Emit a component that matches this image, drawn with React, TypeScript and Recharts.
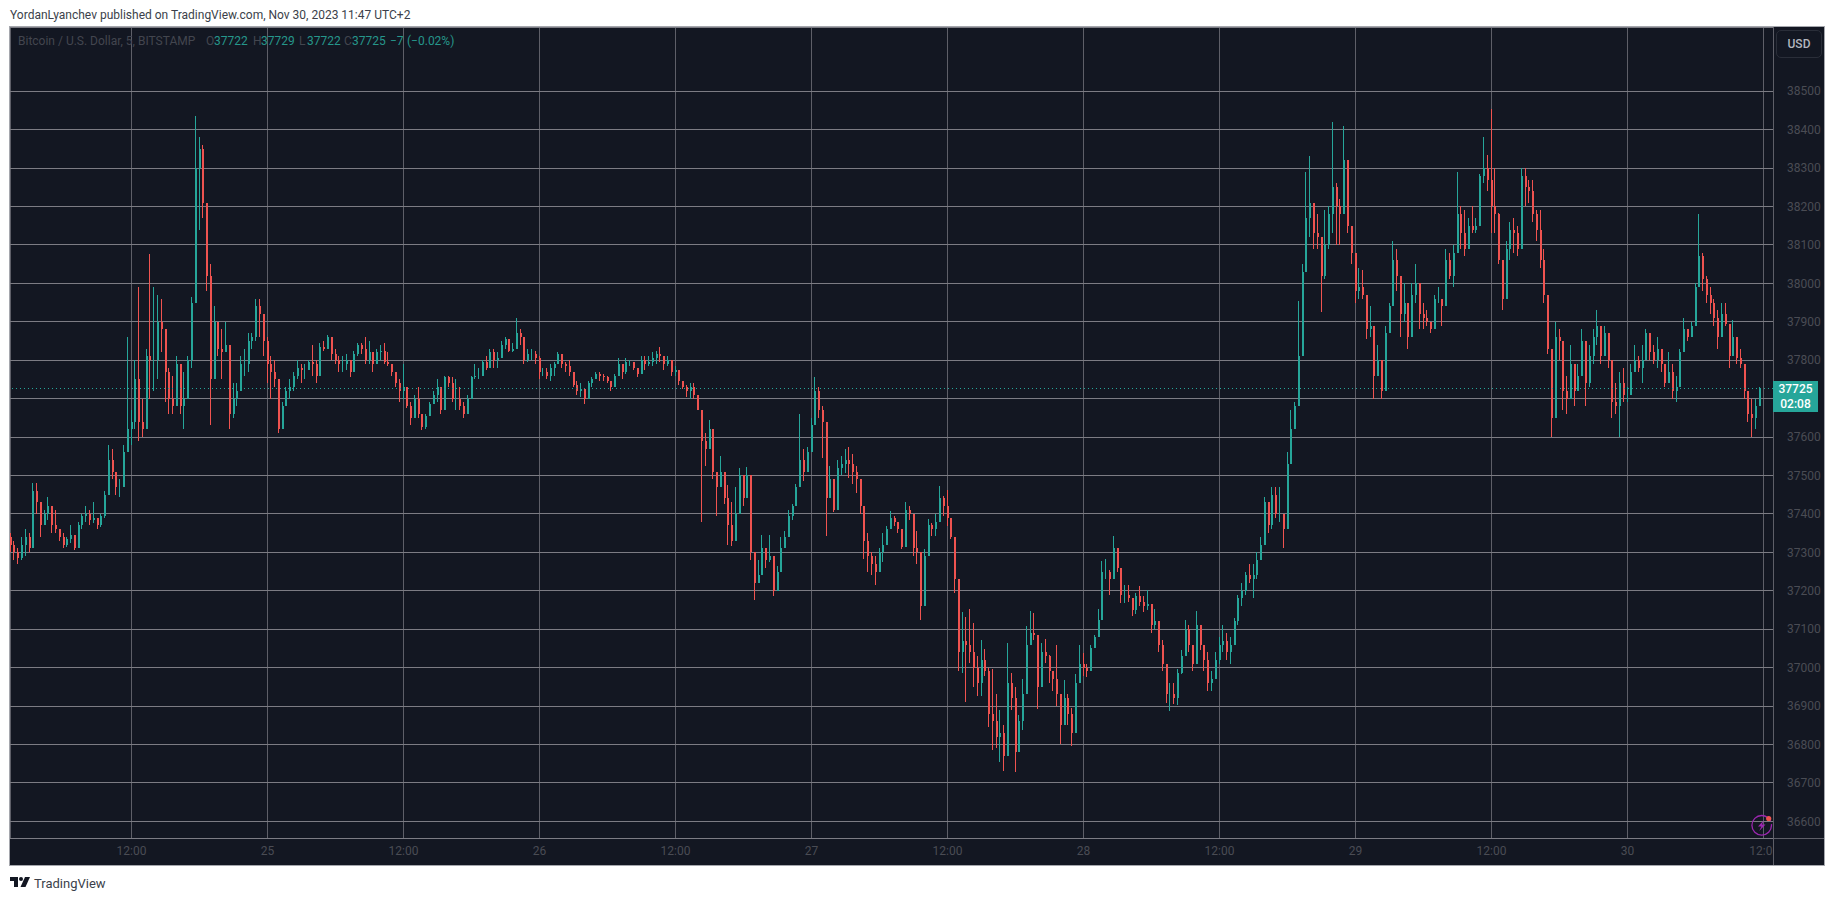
import React from "react";
import { Bar, CartesianGrid, Cell, ComposedChart, ReferenceLine, XAxis, YAxis } from "recharts";

const highs = [
  37350,37330,37310,37340,37360,37350,37480,37480,37420,37410,37445,37390,
  37410,37360,37350,37340,37370,37345,37380,37400,37420,37410,37430,37390,
  37400,37460,37580,37570,37510,37490,37580,37860,37670,37800,37990,37700,
  37830,38075,37990,37970,37960,37850,37780,37760,37810,37760,37770,37810,
  37965,38436,38380,38360,38130,38050,37940,37900,37880,37900,37800,37740,
  37740,37810,37830,37870,37870,37960,37960,37900,37860,37810,37800,37680,
  37690,37730,37750,37770,37800,37790,37790,37800,37840,37800,37845,37850,
  37865,37860,37830,37810,37810,37815,37785,37825,37845,37845,37860,37850,
  37820,37830,37840,37845,37820,37790,37770,37750,37790,37730,37690,37710,
  37730,37640,37660,37690,37720,37750,37730,37760,37760,37755,37750,37730,
  37690,37710,37760,37790,37780,37800,37810,37830,37830,37820,37850,37860,
  37840,37845,37910,37880,37860,37830,37830,37825,37810,37780,37780,37790,
  37795,37820,37815,37795,37800,37770,37745,37740,37720,37745,37755,37770,
  37770,37765,37760,37745,37765,37805,37785,37805,37800,37790,37780,37810,
  37810,37810,37820,37825,37835,37805,37810,37785,37785,37765,37740,37735,
  37740,37740,37700,37650,37610,37645,37605,37500,37550,37507,37474,37430,
  37470,37520,37470,37522,37490,37285,37280,37345,37305,37345,37250,37265,
  37340,37355,37410,37425,37478,37660,37570,37575,37650,37755,37730,37680,
  37530,37525,37435,37540,37550,37570,37575,37555,37525,37464,37373,37350,
  37300,37290,37312,37350,37368,37408,37395,37370,37342,37430,37420,37377,
  37355,37238,37308,37386,37377,37400,37473,37447,37462,37368,37305,37165,
  37145,37131,37153,37116,37029,37073,37048,37000,36995,36930,36890,36850,
  37064,36985,36950,36877,36969,37107,37148,37142,37025,37064,37075,37034,
  36986,37060,36930,36967,36930,36895,36982,37060,37038,37010,37060,37086,
  37153,37277,37283,37255,37342,37298,37240,37216,37216,37177,37195,37212,
  37185,37203,37155,37153,37103,37071,36990,36960,36960,36995,37047,37125,
  37110,37051,37148,37110,37060,37040,36990,37040,37080,37110,37090,37080,
  37130,37190,37220,37250,37270,37270,37300,37340,37445,37420,37470,37470,
  37470,37400,37560,37670,37690,37955,38050,38290,38330,38190,38180,38084,
  38190,38200,38420,38260,38220,38410,38260,38150,38030,38040,38035,37970,
  37940,37840,37840,37760,37890,37950,38110,38090,38010,38000,37940,38000,
  38050,37990,37950,37930,37900,37970,37990,37960,38090,38080,38100,38290,
  38200,38190,38170,38200,38170,38284,38380,38335,38453,38300,38183,38050,
  38110,38160,38170,38150,38300,38300,38270,38270,38190,38190,38090,37945,
  37820,37900,37880,37850,37760,37840,37750,37790,37880,37790,37840,37880,
  37930,37840,37890,37870,37780,37740,37770,37780,37730,37790,37840,37810,
  37840,37880,37870,37840,37860,37820,37790,37820,37790,37760,37830,37910,
  37880,37900,38000,38180,38080,38020,37990,37960,37930,37950,37950,37885,
  37905,37860,37830,37790,37715,37700,37700,37730,
];

const lows = [
  37300,37280,37270,37280,37290,37300,37400,37400,37340,37380,37385,37350,
  37350,37330,37310,37315,37325,37305,37310,37360,37380,37370,37375,37360,
  37365,37390,37490,37490,37450,37445,37470,37570,37580,37620,37590,37600,
  37690,37700,37720,37750,37820,37690,37660,37660,37700,37660,37620,37770,
  37780,37950,38140,38170,37980,37630,37760,37810,37750,37820,37620,37650,
  37680,37750,37760,37770,37830,37850,37860,37810,37740,37700,37730,37610,
  37660,37680,37700,37720,37750,37740,37750,37780,37760,37740,37780,37825,
  37840,37800,37790,37770,37770,37775,37755,37780,37810,37815,37790,37790,
  37770,37790,37800,37790,37785,37760,37730,37690,37700,37675,37630,37670,
  37650,37618,37620,37655,37685,37690,37660,37720,37730,37690,37670,37670,
  37650,37680,37700,37750,37750,37760,37775,37790,37780,37780,37810,37830,
  37820,37820,37840,37840,37790,37795,37800,37790,37750,37760,37750,37745,
  37760,37790,37780,37770,37760,37730,37710,37705,37685,37715,37730,37750,
  37745,37745,37740,37720,37730,37760,37750,37765,37785,37775,37755,37770,
  37775,37785,37785,37790,37795,37775,37785,37760,37760,37735,37725,37705,
  37700,37700,37670,37380,37525,37580,37490,37395,37490,37425,37320,37316,
  37380,37400,37420,37490,37280,37176,37230,37290,37260,37275,37186,37200,
  37280,37320,37345,37385,37420,37500,37485,37525,37570,37630,37650,37545,
  37342,37450,37405,37430,37500,37507,37494,37477,37455,37400,37282,37250,
  37240,37215,37282,37275,37342,37368,37368,37350,37308,37342,37385,37290,
  37270,37125,37265,37334,37342,37342,37395,37395,37368,37334,37195,36990,
  36985,36910,37012,36950,36925,36925,36977,36845,36786,36790,36753,36732,
  36925,36890,36729,36834,36838,36982,37064,37073,36892,36960,37012,36960,
  36938,36900,36800,36850,36850,36797,36880,36985,36977,36975,36995,37050,
  37100,37190,37230,37190,37240,37250,37168,37168,37170,37134,37140,37160,
  37145,37150,37090,37100,37040,36990,36908,36886,36905,36903,36982,37042,
  37040,36990,37020,37047,36990,36940,36940,36970,37010,37040,37020,37010,
  37060,37110,37160,37190,37220,37180,37230,37280,37340,37350,37360,37390,
  37380,37310,37420,37550,37630,37800,37830,38100,38120,38090,38090,37925,
  38010,38090,38130,38100,38100,38200,38130,38050,37950,37960,37960,37855,
  37860,37700,37780,37700,37760,37880,37940,37980,37860,37900,37830,37870,
  37950,37880,37880,37890,37870,37880,37950,37890,37960,38010,37990,38080,
  38090,38070,38090,38130,38130,38150,38260,38240,38130,38130,38050,37930,
  38000,38060,38080,38070,38150,38200,38210,38160,38110,38040,37950,37815,
  37600,37680,37800,37670,37660,37760,37680,37740,37800,37680,37730,37790,
  37840,37790,37810,37780,37650,37660,37600,37690,37690,37730,37770,37770,
  37740,37800,37800,37790,37780,37770,37730,37760,37700,37690,37730,37840,
  37850,37860,37890,38030,37980,37950,37920,37890,37830,37880,37890,37780,
  37820,37790,37780,37700,37640,37600,37620,37700,
];

const closes = [
  37320,37300,37285,37320,37340,37310,37460,37430,37370,37400,37420,37370,
  37360,37340,37320,37335,37345,37310,37370,37395,37400,37385,37390,37370,
  37395,37450,37540,37510,37470,37470,37560,37620,37640,37750,37640,37620,
  37810,37800,37800,37900,37880,37770,37700,37680,37790,37680,37700,37800,
  37950,38300,38350,38210,38020,37750,37900,37830,37820,37840,37660,37700,
  37720,37790,37790,37850,37860,37940,37920,37850,37790,37770,37750,37620,
  37680,37720,37730,37760,37780,37775,37775,37795,37790,37760,37835,37830,
  37860,37815,37800,37790,37790,37800,37770,37815,37840,37830,37800,37820,
  37790,37820,37825,37795,37790,37770,37740,37720,37730,37680,37650,37700,
  37660,37625,37655,37685,37710,37730,37670,37755,37740,37700,37700,37680,
  37660,37700,37755,37760,37760,37795,37780,37820,37800,37805,37840,37855,
  37825,37830,37870,37860,37800,37815,37815,37805,37770,37770,37760,37780,
  37790,37815,37790,37785,37770,37735,37720,37725,37700,37740,37750,37765,
  37760,37755,37745,37730,37760,37790,37770,37795,37795,37780,37765,37800,
  37790,37795,37805,37815,37810,37790,37800,37770,37775,37745,37730,37720,
  37730,37710,37670,37590,37570,37620,37510,37470,37510,37440,37370,37330,
  37400,37500,37440,37500,37300,37220,37240,37310,37280,37290,37200,37250,
  37310,37340,37395,37420,37470,37540,37510,37560,37630,37720,37670,37640,
  37440,37490,37410,37520,37530,37540,37530,37510,37490,37420,37330,37290,
  37270,37250,37300,37320,37360,37390,37380,37360,37315,37410,37400,37310,
  37300,37160,37290,37370,37360,37380,37440,37420,37390,37340,37230,37040,
  37070,37060,37040,37000,36960,37020,36990,36880,36860,36820,36830,36770,
  36960,36920,36780,36860,36930,37060,37090,37085,36950,37040,37030,36990,
  36970,36930,36850,36920,36880,36830,36960,37010,37000,36990,37050,37080,
  37125,37250,37250,37230,37310,37260,37190,37190,37180,37150,37185,37170,
  37160,37165,37110,37120,37060,37010,36930,36930,36920,36985,37030,37100,
  37060,37010,37110,37060,37020,36960,36970,37020,37060,37070,37040,37060,
  37120,37180,37200,37240,37230,37240,37280,37320,37430,37370,37450,37400,
  37400,37360,37530,37620,37680,37810,38030,38170,38210,38130,38120,38020,
  38100,38180,38250,38200,38180,38320,38150,38080,37980,37990,37970,37880,
  37890,37760,37800,37720,37870,37940,38060,38020,37920,37950,37860,37970,
  38000,37920,37910,37900,37880,37960,37960,37940,38060,38020,38080,38180,
  38130,38090,38150,38140,38150,38280,38300,38270,38200,38180,38060,37960,
  38090,38140,38130,38090,38280,38250,38240,38180,38140,38060,37970,37830,
  37650,37860,37850,37720,37700,37790,37720,37760,37850,37740,37810,37860,
  37890,37810,37870,37800,37690,37680,37740,37710,37710,37770,37800,37780,
  37800,37870,37820,37800,37830,37790,37740,37770,37720,37730,37820,37880,
  37860,37890,37990,38070,38010,37970,37950,37910,37860,37920,37895,37810,
  37860,37805,37790,37720,37660,37650,37680,37725,
];

const firstOpen = 37340;
const lastPrice = 37725;

// hours since Nov 24 00:00, one candle every 20 minutes
const firstHour = 1.33;
const hoursPerCandle = 1 / 3;

const priceTicks = [
  36600, 36700, 36800, 36900, 37000, 37100, 37200, 37300, 37400, 37500,
  37600, 37700, 37800, 37900, 38000, 38100, 38200, 38300, 38400, 38500,
];
// the price tag sits on top of this label in the original
const hiddenPriceLabel = 37700;
const timeTicks = [12, 24, 36, 48, 60, 72, 84, 96, 108, 120, 132, 144, 156];
const timeLabels = ["12:00", "25", "12:00", "26", "12:00", "27", "12:00", "28", "12:00", "29", "12:00", "30", "12:0"];

const UP = "#26a69a";
const DOWN = "#ef5350";
const BG = "#131722";
const AXIS_TEXT = "#4a4c54";
const FONT = "Roboto, sans-serif";

const candles = closes.map((close, i) => {
  const open = i === 0 ? firstOpen : closes[i - 1];
  return {
    hour: firstHour + i * hoursPerCandle,
    wick: [Math.min(lows[i], open, close), Math.max(highs[i], open, close)],
    body: [Math.min(open, close), Math.max(open, close)],
    up: close >= open,
  };
});

const TimeTick = (props: any) => {
  const { x, payload, index } = props;
  const last = index === timeTicks.length - 1;
  return (
    <text x={last ? x + 9 : x} y={855} textAnchor={last ? "end" : "middle"} fill={AXIS_TEXT} fontSize={12} fontFamily={FONT}>
      {timeLabels[timeTicks.indexOf(payload.value)]}
    </text>
  );
};

const abs = (left: number, top: number, extra: React.CSSProperties = {}): React.CSSProperties => ({
  position: "absolute",
  left,
  top,
  whiteSpace: "nowrap",
  fontFamily: FONT,
  ...extra,
});

const legend = (left: number, text: string, color: string) => (
  <span style={abs(left, 34, { fontSize: 12, color, lineHeight: "15px" })}>{text}</span>
);

const App: React.FC = () => {
  return (
    <div style={{ position: "absolute", left: 0, top: 0, width: 1835, height: 901, background: "#fff", overflow: "hidden" }}>
      <div style={abs(10, 7, { fontSize: 12, lineHeight: "16px", color: "#3b3f4a" })}>
        YordanLyanchev published on TradingView.com, Nov 30, 2023 11:47 UTC+2
      </div>

      <div style={{ position: "absolute", left: 10, top: 27, width: 1814, height: 838, background: BG, boxShadow: "0 0 0 1px #a5a7ad" }} />
      <div style={{ position: "absolute", left: 10, top: 838, width: 1814, height: 1, background: "#5e5f68" }} />
      <div style={{ position: "absolute", left: 1773, top: 27, width: 1, height: 838, background: "#5e5f68" }} />

      <div style={{ position: "absolute", left: 0, top: 0, shapeRendering: "crispEdges" }}>
        <ComposedChart width={1835} height={901} data={candles} margin={{ top: 27, right: 11, bottom: 35, left: 10 }}>
          <CartesianGrid xAxisId="wick" horizontal={false} stroke="#5e5f68" />
          <CartesianGrid xAxisId="wick" vertical={false} stroke="#7c7c84" />
          <XAxis
            xAxisId="wick"
            dataKey="hour"
            type="number"
            domain={[1.279, 156.84]}
            ticks={timeTicks}
            interval={0}
            height={28}
            axisLine={false}
            tickLine={false}
            tick={TimeTick}
            allowDataOverflow
          />
          <XAxis xAxisId="body" dataKey="hour" type="number" domain={[1.279, 156.84]} hide allowDataOverflow />
          <YAxis
            orientation="right"
            type="number"
            width={51}
            domain={[36556.5, 38667]}
            ticks={priceTicks}
            interval={0}
            axisLine={false}
            tickLine={false}
            tick={{ fill: AXIS_TEXT, fontSize: 12, fontFamily: FONT }}
            tickFormatter={(v: number) => (v === hiddenPriceLabel ? "" : String(v))}
            tickMargin={8}
            allowDataOverflow
          />
          <ReferenceLine xAxisId="wick" y={lastPrice} stroke={UP} strokeDasharray="1 3" />
          <Bar xAxisId="wick" dataKey="wick" barSize={1} isAnimationActive={false}>
            {candles.map((c, i) => (
              <Cell key={i} fill={c.up ? UP : DOWN} />
            ))}
          </Bar>
          <Bar xAxisId="body" dataKey="body" barSize={2} isAnimationActive={false}>
            {candles.map((c, i) => (
              <Cell key={i} fill={c.up ? UP : DOWN} />
            ))}
          </Bar>
        </ComposedChart>
      </div>

      {legend(18, "Bitcoin / U.S. Dollar, 5, BITSTAMP", "#43464f")}
      {legend(206, "O", "#43464f")}
      {legend(214, "37722", "#26968b")}
      {legend(253, "H", "#43464f")}
      {legend(261, "37729", "#26968b")}
      {legend(299, "L", "#43464f")}
      {legend(307, "37722", "#26968b")}
      {legend(344, "C", "#43464f")}
      {legend(352, "37725", "#26968b")}
      {legend(390, "−7", "#26968b")}
      {legend(407, "(−0.02%)", "#26968b")}

      <div
        style={abs(1776, 30, {
          width: 44,
          height: 26,
          border: "1px solid #2a2e39",
          borderRadius: 5,
          color: "#b2b5be",
          fontSize: 12,
          fontWeight: 500,
          lineHeight: "26px",
          textAlign: "center",
        })}
      >
        USD
      </div>

      <div
        style={abs(1773, 381, {
          width: 45,
          height: 31,
          background: UP,
          color: "#fff",
          fontSize: 12,
          fontWeight: 500,
          lineHeight: "15px",
          textAlign: "center",
          paddingTop: 1,
          boxSizing: "border-box",
        })}
      >
        {lastPrice}
        <br />
        02:08
      </div>

      <svg style={{ position: "absolute", left: 1748, top: 812 }} width={26} height={26} viewBox="0 0 26 26">
        <circle cx={13.7} cy={13.3} r={9.8} fill="none" stroke="#9c27b0" strokeWidth={1.3} strokeDasharray="52 3 2 3" />
        <path d="M16 8 L10 14.5 L13.3 14.5 L11.2 19 L17.5 12.5 L14 12.5 Z" fill="#9c27b0" />
        <circle cx={20.7} cy={6.5} r={2.6} fill="#ef5350" />
      </svg>

      <svg style={{ position: "absolute", left: 10, top: 877 }} width={20} height={10} viewBox="0 0 20 10">
        <path d="M0 0 H8 V10 H4 V4 H0 Z" fill="#131722" />
        <circle cx={11} cy={2} r={2} fill="#131722" />
        <path d="M15 0 H20 L15.5 10 H10.5 Z" fill="#131722" />
      </svg>
      <div style={abs(34, 876, { fontSize: 13, lineHeight: "16px", color: "#3b3f4a" })}>TradingView</div>
    </div>
  );
};

export default App;
